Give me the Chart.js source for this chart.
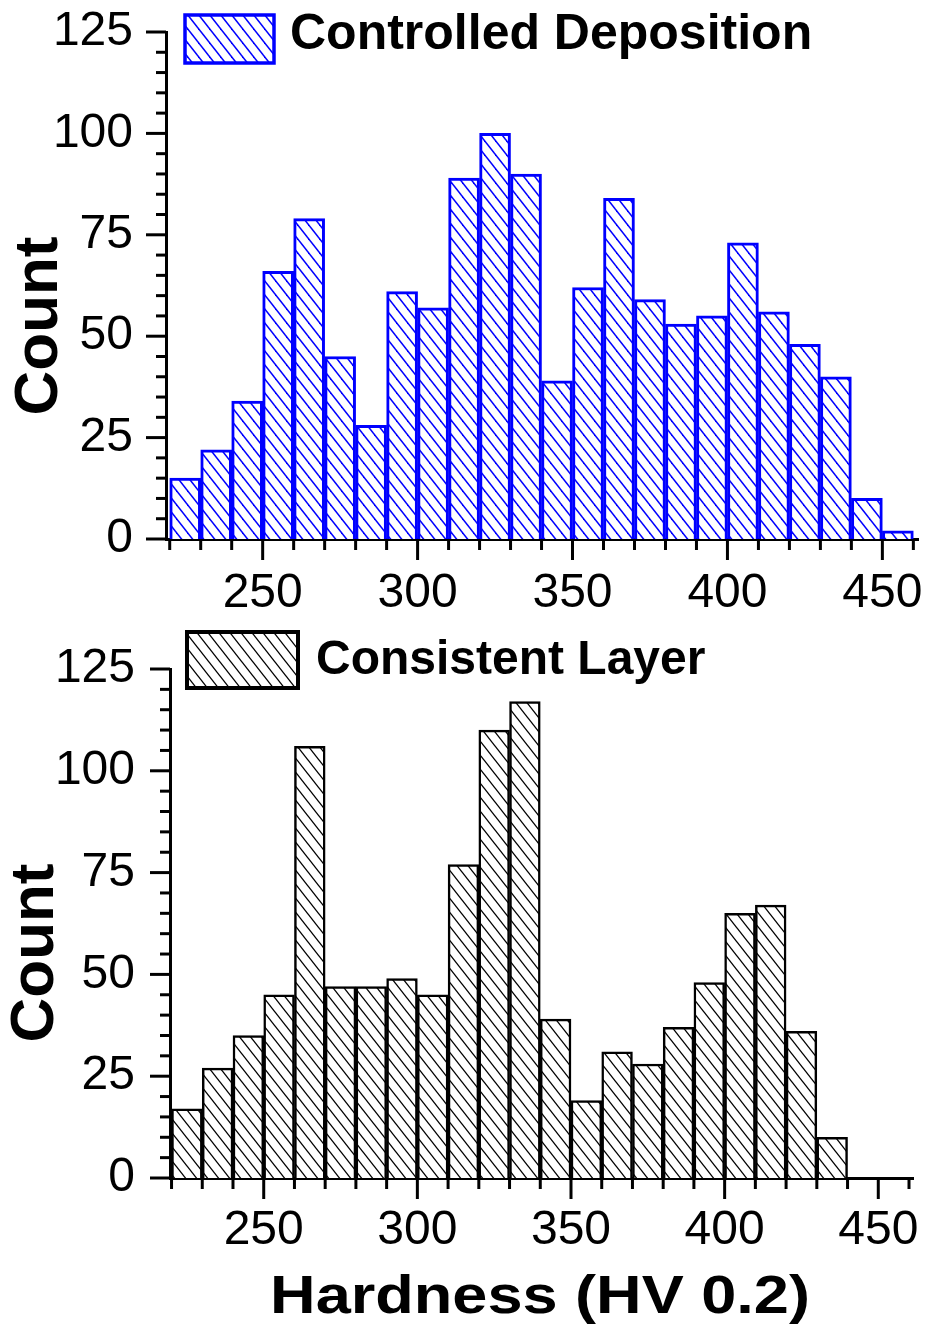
<!DOCTYPE html>
<html>
<head>
<meta charset="utf-8">
<script src="https://cdn.jsdelivr.net/npm/chart.js@4.4.1/dist/chart.umd.min.js"></script>
<style>
  html, body { margin: 0; padding: 0; background: #fff; }
  body { width: 925px; height: 1338px; position: relative; overflow: hidden; }
  .wrap { position: absolute; left: 0; width: 925px; }
  #topWrap { top: 0; height: 620px; }
  #bottomWrap { top: 620px; height: 718px; }
</style>
</head>
<body>
<div class="wrap" id="topWrap"><canvas id="controlledChart"></canvas></div>
<div class="wrap" id="bottomWrap"><canvas id="consistentChart"></canvas></div>
<script>
// histogram bins (left edge, HV), 10 HV wide
const binStarts = [220, 230, 240, 250, 260, 270, 280, 290, 300, 310, 320, 330,
                   340, 350, 360, 370, 380, 390, 400, 410, 420, 430, 440, 450];
const binWidth = 10;

const controlledCounts = [15, 22, 34, 66, 79, 45, 28, 61, 57, 89, 100, 90,
                          39, 62, 84, 59, 53, 55, 73, 56, 48, 40, 10, 2];
const consistentCounts = [17, 27, 35, 45, 106, 47, 47, 49, 45, 77, 110, 117,
                          39, 19, 31, 28, 37, 48, 65, 67, 36, 10, 0, 0];

const xTickLabels = [250, 300, 350, 400, 450];
const yTickLabels = [0, 25, 50, 75, 100, 125];

const controlledLabel = 'Controlled Deposition';
const consistentLabel = 'Consistent Layer';
const yTitle = 'Count';
const xTitle = 'Hardness (HV 0.2)';

// diagonal "\\\" hatch
function makeHatch(color, lw) {
    const w = 11, h = 14;
    const c = document.createElement('canvas');
    c.width = w; c.height = h;
    const g = c.getContext('2d');
    g.fillStyle = '#fff';
    g.fillRect(0, 0, w, h);
    g.strokeStyle = color;
    g.lineWidth = lw;
    for (let k = -1; k <= 1; k++) {
        g.beginPath();
        g.moveTo(k * w - w, -h);
        g.lineTo(k * w + 2 * w, 2 * h);
        g.stroke();
    }
    return g.createPattern(c, 'repeat');
}

// minor/major tick marks, legend box and titles
const decor = {
    id: 'decor',
    afterDraw(chart, args, o) {
        const ctx = chart.ctx;
        const xs = chart.scales.x, ys = chart.scales.y;
        const area = chart.chartArea;
        ctx.save();
        ctx.strokeStyle = '#000';
        ctx.lineWidth = 3;
        for (let v = o.xFrom; v <= o.xTo; v += 10) {
            const px = xs.getPixelForValue(v);
            const len = v % 50 === 0 ? 21 : 11;
            ctx.beginPath();
            ctx.moveTo(px, area.bottom);
            ctx.lineTo(px, area.bottom + len);
            ctx.stroke();
        }
        for (let v = 0; v <= 125; v += 5) {
            const py = ys.getPixelForValue(v);
            const len = v % 25 === 0 ? 20 : 10;
            ctx.beginPath();
            ctx.moveTo(area.left, py);
            ctx.lineTo(area.left - len, py);
            ctx.stroke();
        }

        // legend
        const ds = chart.data.datasets[0];
        const b = o.box;
        ctx.fillStyle = ds.backgroundColor;
        ctx.fillRect(b.x, b.y, b.w, b.h);
        ctx.strokeStyle = ds.borderColor;
        ctx.lineWidth = b.lw;
        ctx.strokeRect(b.x, b.y, b.w, b.h);
        ctx.fillStyle = '#000';
        ctx.font = 'bold ' + o.legendSize + 'px "Liberation Sans", Arial, sans-serif';
        ctx.textAlign = 'left';
        ctx.textBaseline = 'middle';
        ctx.fillText(ds.label, o.legendX, o.legendY);

        // y title
        ctx.save();
        ctx.translate(o.countX, o.countY);
        ctx.rotate(-Math.PI / 2);
        ctx.font = 'bold 62px "Liberation Sans", Arial, sans-serif';
        ctx.textAlign = 'center';
        ctx.fillText(yTitle, 0, 0);
        ctx.restore();

        // x title
        if (o.xTitle) {
            ctx.save();
            ctx.translate(o.xTitle.x, o.xTitle.y);
            ctx.scale(1.19, 1);
            ctx.font = 'bold 53px "Liberation Sans", Arial, sans-serif';
            ctx.textAlign = 'center';
            ctx.fillText(xTitle, 0, 0);
            ctx.restore();
        }
        ctx.restore();
    }
};

const tickFont = { family: '"Liberation Sans", Arial, sans-serif', size: 48 };

function buildChart(id, label, counts, color, cfg) {
    return new Chart(document.getElementById(id), {
        type: 'bar',
        data: {
            datasets: [{
                label: label,
                data: binStarts.map((s, i) => ({ x: s + binWidth / 2, y: counts[i] })),
                backgroundColor: makeHatch(color, cfg.hatchWidth),
                borderColor: color,
                borderWidth: cfg.barBorder,
                borderSkipped: 'start',
                barPercentage: 1,
                categoryPercentage: 1
            }]
        },
        options: {
            responsive: true,
            maintainAspectRatio: false,
            animation: false,
            layout: { padding: cfg.padding },
            plugins: {
                legend: { display: false },
                tooltip: { enabled: false },
                decor: cfg.decor
            },
            scales: {
                x: {
                    type: 'linear',
                    offset: false,
                    min: cfg.xMin,
                    max: cfg.xMax,
                    z: 1,
                    grid: { display: false, drawTicks: false },
                    border: { display: true, color: '#000', width: 3 },
                    ticks: { font: tickFont, color: '#000', padding: cfg.xPad, maxRotation: 0 },
                    afterBuildTicks: ax => { ax.ticks = xTickLabels.map(v => ({ value: v })); },
                    afterFit: ax => {
                        ax.height = cfg.xHeight;
                        ax.paddingLeft = 0; ax.paddingRight = 0;
                    }
                },
                y: {
                    min: 0,
                    max: 125,
                    z: 1,
                    grid: { display: false, drawTicks: false },
                    border: { display: true, color: '#000', width: 3 },
                    ticks: { font: tickFont, color: '#000', padding: cfg.yPad },
                    afterBuildTicks: ax => { ax.ticks = yTickLabels.map(v => ({ value: v })); },
                    afterFit: ax => {
                        ax.width = cfg.yWidth;
                        ax.paddingTop = 0; ax.paddingBottom = 0;
                    }
                }
            }
        },
        plugins: [decor]
    });
}

buildChart('controlledChart', controlledLabel, controlledCounts, '#0000ff', {
    hatchWidth: 1.5,
    barBorder: 3,
    padding: { top: 32, right: 7, bottom: 0, left: 0 },
    xMin: 218.8, xMax: 461.5,
    xHeight: 81, yWidth: 166,
    xPad: 26, yPad: 33,
    decor: {
        xFrom: 220, xTo: 460,
        box: { x: 185, y: 15, w: 89, h: 48, lw: 3.5 },
        legendSize: 50, legendX: 290, legendY: 35,
        countX: 40, countY: 326
    }
});

buildChart('consistentChart', consistentLabel, consistentCounts, '#000000', {
    hatchWidth: 1.3,
    barBorder: 2.5,
    padding: { top: 49, right: 12, bottom: 0, left: 0 },
    xMin: 219.5, xMax: 461.3,
    xHeight: 160, yWidth: 170,
    xPad: 24, yPad: 35,
    decor: {
        xFrom: 220, xTo: 460,
        box: { x: 187, y: 12, w: 111, h: 56, lw: 4 },
        legendSize: 48, legendX: 316, legendY: 41,
        countX: 36, countY: 333,
        xTitle: { x: 540, y: 678 }
    }
});
</script>
</body>
</html>
